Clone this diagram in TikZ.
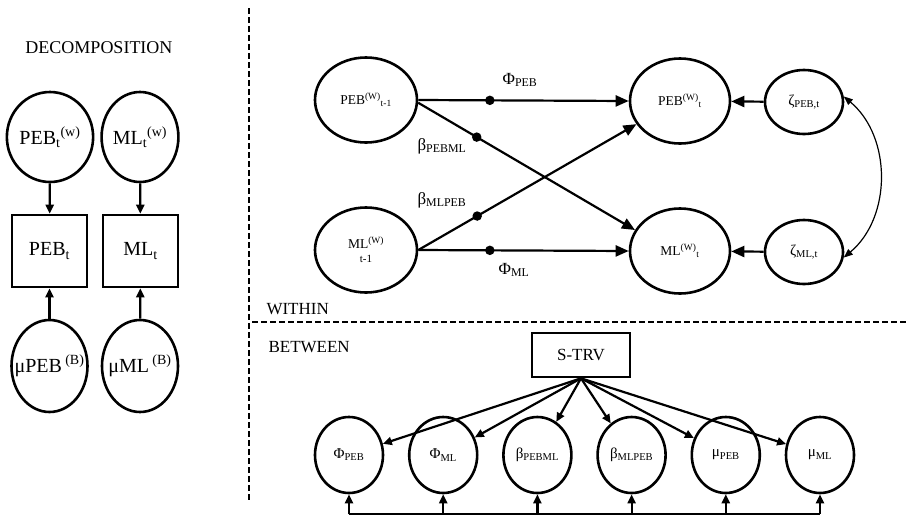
\documentclass[tikz,border=0pt]{standalone}
\usepackage{fontspec}
\setmainfont{Liberation Serif}
\usetikzlibrary{
  positioning,
  arrows.meta,
  shapes.geometric
}
\newcommand{\subtx}[1]{\textsubscript{#1}}
\newcommand{\suptx}[1]{\textsuperscript{#1}}

\begin{document}
\begin{tikzpicture}[
  x=1pt, y=-1pt,
  node distance=23.6pt,
  dcirc/.style={ellipse, draw, line width=2.6pt, inner sep=0pt,
                minimum width=74pt, minimum height=90pt,
                font=\fontsize{20}{22}\selectfont},
  dbox/.style={rectangle, draw, line width=2.6pt, inner sep=0pt,
               minimum width=75pt, minimum height=72pt,
               font=\fontsize{20}{22}\selectfont},
  wlat/.style={ellipse, draw, line width=2.6pt, inner sep=0pt,
               minimum width=102pt, minimum height=85pt, align=center,
               font=\fontsize{13.5}{15}\selectfont},
  resid/.style={wlat, minimum width=78pt, minimum height=64pt,
                font=\fontsize{15}{17}\selectfont},
  bcirc/.style={ellipse, draw, line width=2.6pt, inner sep=0pt,
                minimum width=68pt, minimum height=76pt,
                font=\fontsize{15}{17}\selectfont},
  obox/.style={rectangle, draw, line width=2.6pt,
               minimum width=98pt, minimum height=44pt,
               font=\fontsize{17}{20}\selectfont},
  lbl/.style={font=\fontsize{17}{20}\selectfont},
  dot/.style={circle, fill, inner sep=0pt, minimum size=9.5pt},
  arrow/.style={-{Triangle[length=13pt,width=11pt]}, line width=2.2pt},
  sarrow/.style={-{Triangle[length=9pt,width=8pt]}, line width=2.2pt},
  covar/.style={{Triangle[length=9pt,width=7pt]}-{Triangle[length=9pt,width=7pt]}, line width=1.2pt},
  split/.style={dash pattern=on 6pt off 3pt, line width=1.8pt}
]
  \useasboundingbox (0,0) rectangle (908,515);

  % decomposition
  \node[lbl, font=\fontsize{18}{20}\selectfont] (dectitle) at (99,48) {DECOMPOSITION};
  \node[dcirc] (pebw) at (50,137) {PEB\subtx{t}\suptx{(w)}};
  \node[dcirc] (mlw) at (140,137) {ML\subtx{t}\suptx{(w)}};
  \node[dbox] (pebobs) at (49.5,251) {PEB\subtx{t}};
  \node[dbox] (mlobs) at (140.5,251) {ML\subtx{t}};
  \node[dcirc, minimum width=76pt, minimum height=92pt] (mupebb) at (49.5,366) {\makebox[0pt]{μPEB\,\suptx{(B)}}};
  \node[dcirc, minimum width=76pt, minimum height=92pt] (mumlb) at (140,366) {\makebox[0pt]{μML\,\suptx{(B)}}};
  \draw[sarrow] (pebw) -- (pebobs);
  \draw[sarrow] (mlw) -- (mlobs);
  \draw[sarrow] (mupebb) -- (pebobs);
  \draw[sarrow] (mumlb) -- (mlobs);

  % panel borders
  \draw[split] (249,8) -- (249,502);
  \draw[split] (252,322) -- (908,322);
  \node[lbl, anchor=west] (within) at (263,309) {WITHIN};
  \node[lbl, anchor=west] (between) at (265,347) {BETWEEN};

  % within level
  \node[wlat] (pebprev) at (366,100) {PEB\suptx{(W)}\subtx{t-1}};
  \node[wlat] (mlprev) at (366,250) {ML\suptx{(W)}\\[-1pt]{\fontsize{11}{12}\selectfont t-1}};
  \node[wlat, minimum width=100pt] (pebnow) at (680,101) {PEB\suptx{(W)}\subtx{t}};
  \node[wlat, minimum width=100pt] (mlnow) at (680,251) {ML\suptx{(W)}\subtx{t}};
  \node[resid] (zpeb) at (804,102) {ζ\subtx{PEB,t}};
  \node[resid] (zml) at (804,252) {ζ\subtx{ML,t}};

  \draw[arrow] (pebprev.east) -- node[dot, pos=0.34] (dphipeb) {} (pebnow.west);
  \draw[arrow] (pebprev.-3) -- node[dot, pos=0.27] (dbpebml) {} (mlnow.155);
  \draw[arrow] (mlprev.east) -- node[dot, pos=0.27] (dbmlpeb) {} (pebnow.208);
  \draw[arrow] (mlprev.east) -- node[dot, pos=0.34] (dphiml) {} (mlnow.west);
  \node[lbl] (lphipeb) at (520,80) {Φ\subtx{PEB}};
  \node[lbl] (lbpebml) at (442,146) {β\subtx{PEBML}};
  \node[lbl] (lbmlpeb) at (442,200) {β\subtx{MLPEB}};
  \node[lbl] (lphiml) at (514,270) {Φ\subtx{ML}};

  \draw[arrow] (zpeb) -- (pebnow);
  \draw[arrow] (zml) -- (mlnow);
  \draw[covar] (zpeb.8) to[bend left=50] (zml.-8);

  % between level
  \node[obox] (strv) at (581,355) {S-TRV};
  \node[bcirc] (bphipeb) at (349,455) {Φ\subtx{PEB}};
  \node[bcirc, right=of bphipeb] (bphiml) {Φ\subtx{ML}};
  \node[bcirc, right=of bphiml] (bbpebml) {β\subtx{PEBML}};
  \node[bcirc, right=of bbpebml] (bbmlpeb) {β\subtx{MLPEB}};
  \node[bcirc, right=of bbmlpeb] (bmupeb) {μ\subtx{PEB}};
  \node[bcirc, right=of bmupeb] (bmuml) {μ\subtx{ML}};

  \foreach \n [count=\i] in {bphipeb,bphiml,bbpebml,bbmlpeb,bmupeb,bmuml} {
    \path (\n.south) ++(0,20) coordinate (bar\i);
    \draw[sarrow] (strv.south) -- (\n);
    \draw[sarrow] (bar\i) -- (\n.south);
  }
  \draw[line width=2.2pt] (bar1) -- (bar6);
\end{tikzpicture}
\end{document}
